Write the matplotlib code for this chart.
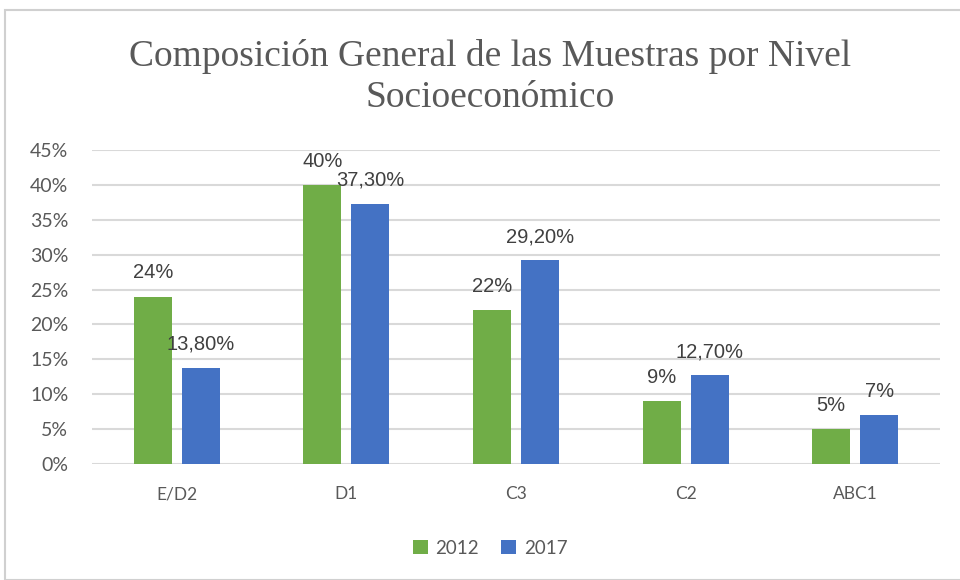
import matplotlib
matplotlib.use("Agg")
import matplotlib.pyplot as plt
import numpy as np
from matplotlib.patches import Rectangle

categories = ["E/D2", "D1", "C3", "C2", "ABC1"]
years = ["2012", "2017"]
values_2012 = [24, 40, 22, 9, 5]
values_2017 = [13.8, 37.3, 29.2, 12.7, 7]
labels_2012 = ["24%", "40%", "22%", "9%", "5%"]
labels_2017 = ["13,80%", "37,30%", "29,20%", "12,70%", "7%"]
yticks = [0, 5, 10, 15, 20, 25, 30, 35, 40, 45]

green = "#70AD47"
blue = "#4472C4"
gray_text = "#595959"

fig = plt.figure(figsize=(9.6, 5.8), dpi=100)
fig.patch.set_facecolor("white")
fig.add_artist(Rectangle((5/960, 0), 1, 1 - 10/580, transform=fig.transFigure,
                         fill=False, edgecolor="#d0d0d0", linewidth=1.5))

ax = fig.add_axes([92/960, 1 - 464/580, (940-92)/960, (464-150)/580])
x = np.arange(len(categories))
w = 0.224
off = 0.1415
b1 = ax.bar(x - off, values_2012, w, color=green, label=years[0], zorder=3)
b2 = ax.bar(x + off, values_2017, w, color=blue, label=years[1], zorder=3)

ax.set_xlim(-0.5, len(categories) - 0.5)
ax.set_ylim(0, 45)
ax.set_yticks(yticks)
ax.set_yticklabels([f"{t}%" for t in yticks])
ax.set_xticks(x)
ax.set_xticklabels(categories)
ax.yaxis.grid(True, color="#d9d9d9", linewidth=1.5, zorder=0)
ax.set_axisbelow(True)
for s in ax.spines.values():
    s.set_visible(False)
ax.tick_params(axis="both", length=0)
ax.tick_params(axis="y", labelsize=14, labelcolor=gray_text, pad=17)
ax.tick_params(axis="x", labelsize=12.5, labelcolor=gray_text, pad=16)
for lab in ax.get_yticklabels() + ax.get_xticklabels():
    lab.set_family("Lato")

lab_font = dict(family=["Liberation Sans Narrow", "Liberation Sans"], fontsize=14.5, color="#404040")
for bars, labs in ((b1, labels_2012), (b2, labels_2017)):
    for bar, l in zip(bars, labs):
        ax.annotate(l, (bar.get_x() + bar.get_width()/2, bar.get_height()),
                    xytext=(0, 17), textcoords="offset points", ha="center", va="center", **lab_font)

fig.text(490/960, 1 - 77/580, "Composición General de las Muestras por Nivel\nSocioeconómico",
         ha="center", va="center", family="Liberation Serif", fontsize=27, color=gray_text,
         linespacing=1.28)

leg = fig.legend(handles=[b1, b2], labels=years, loc="center", bbox_to_anchor=(490/960, 1 - 548/580),
                 ncol=2, frameon=False, handlelength=0.8, handleheight=0.8, columnspacing=1.2,
                 handletextpad=0.4, prop={"family": "Lato", "size": 13.5})
for t in leg.get_texts():
    t.set_color(gray_text)

fig.savefig("out.png", dpi=100)
